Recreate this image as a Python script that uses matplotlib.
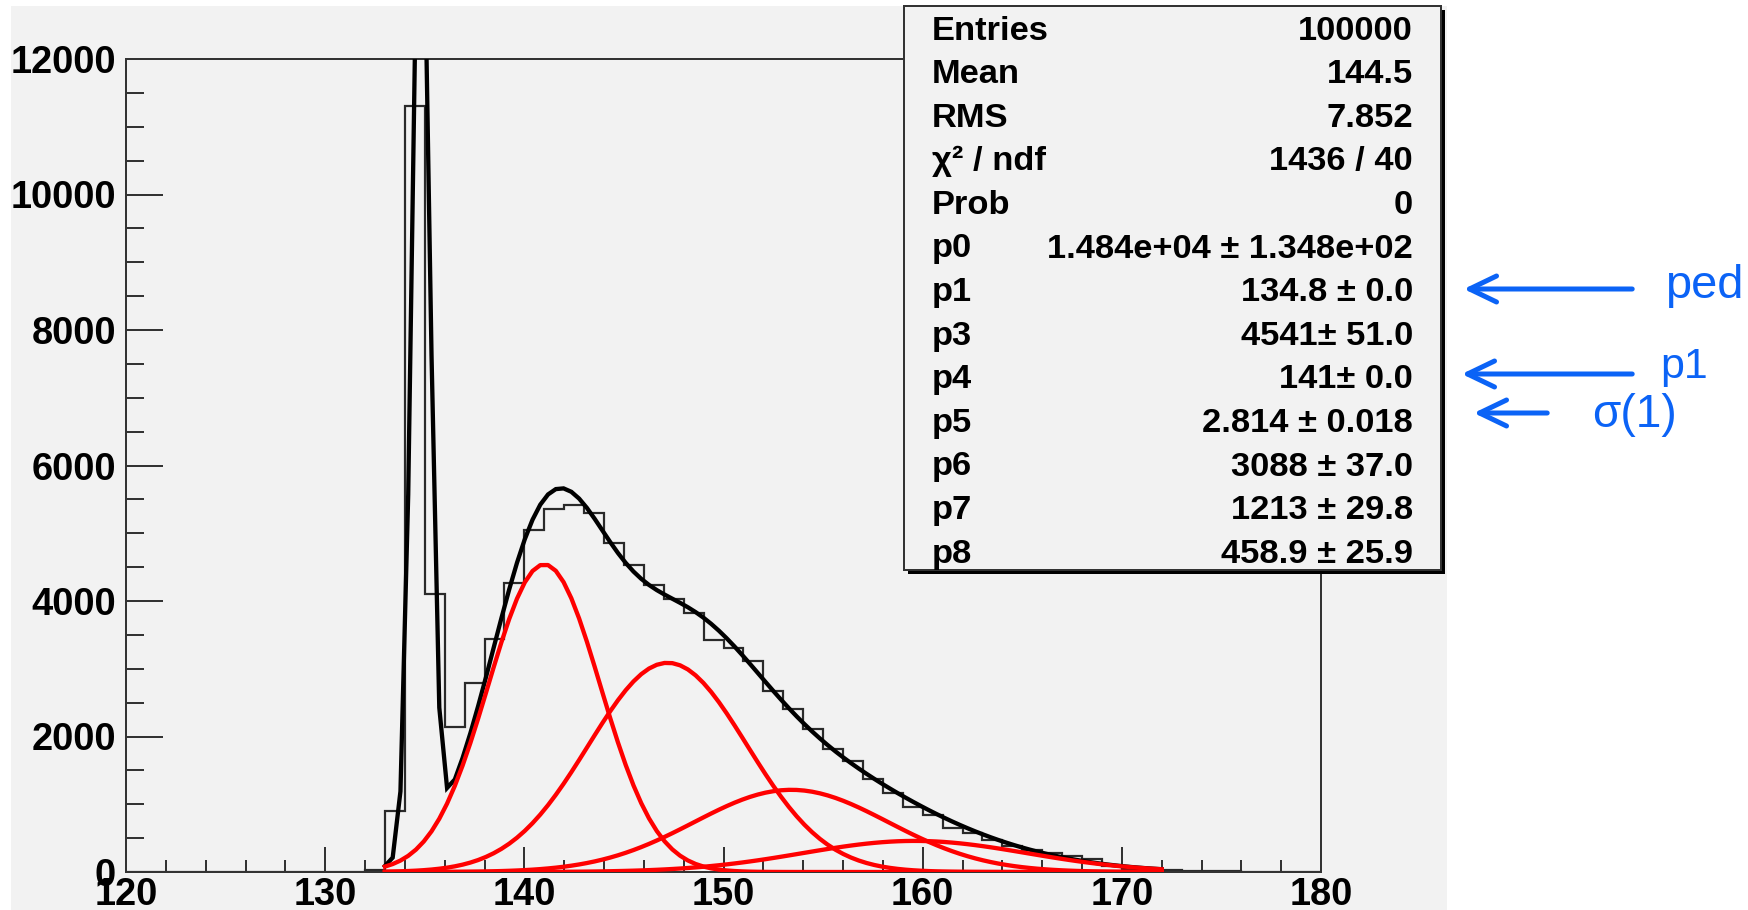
import numpy as np
import matplotlib.pyplot as plt
from matplotlib.patches import Rectangle, FancyArrowPatch
from matplotlib.ticker import MultipleLocator

plt.rcParams['font.family'] = ['Liberation Sans', 'DejaVu Sans']

W, H = 1748, 910  # output size in pixels

# histogram: 1-wide bins from 120 to 180
bin_edges = np.arange(120, 181, 1)
counts = [0, 0, 0, 0, 0, 0, 0, 0, 0, 0, 0,          # 120..130
          5, 25, 900, 11300, 4100, 2145, 2794, 3444, 4270,   # 131..139
          5050, 5353, 5412, 5294, 4860, 4531, 4236, 4025, 3828, 3424,  # 140..149
          3301, 3114, 2672, 2401, 2106, 1811, 1643, 1368, 1161, 964,   # 150..159
          840, 645, 580, 472, 388, 325, 276, 236, 197, 90,    # 160..169
          50, 35, 25, 18, 12, 8, 5, 3, 2, 1]                 # 170..179

# fit result (stat box) - pedestal + photo-electron peaks
ped_amp = 1.484e4      # p0
ped_mean = 134.8       # p1
ped_sigma = 0.44       # p2 (fixed, not printed)
pe1_mean = 141.0       # p4
pe1_sigma = 2.814      # p5
pe_amps = [4541, 3088, 1213, 458.9]   # p3, p6, p7, p8
fit_lo, fit_hi = 133, 172

stat_labels = ['Entries', 'Mean', 'RMS', 'χ² / ndf', 'Prob', 'p0', 'p1',
               'p3', 'p4', 'p5', 'p6', 'p7', 'p8']
stat_values = ['100000', '144.5', '7.852', '1436 / 40', '0',
               '1.484e+04 ± 1.348e+02', '134.8 ± 0.0', '4541± 51.0',
               '141± 0.0', '2.814 ± 0.018', '3088 ± 37.0', '1213 ± 29.8',
               '458.9 ± 25.9']

x_ticks = [120, 130, 140, 150, 160, 170, 180]
y_ticks = [0, 2000, 4000, 6000, 8000, 10000, 12000]

GRAY = '#f2f2f2'
DARK = '#333333'
BLUE = '#0b63f6'


def px(v):
    # pixels -> points at dpi 100
    return v * 0.72


def gaus(x, a, m, s):
    return a * np.exp(-0.5 * ((x - m) / s) ** 2)


fig = plt.figure(figsize=(W / 100, H / 100), dpi=100)

# canvas background (white strip on the right)
bg = fig.add_axes([0, 0, 1, 1], zorder=-1)
bg.set_xlim(0, W)
bg.set_ylim(H, 0)
bg.axis('off')
bg.add_patch(Rectangle((11, 6), 1447 - 11, H - 6, facecolor=GRAY, edgecolor='none'))

left, right, top, bottom = 126, 1321, 59, 872
ax = fig.add_axes([left / W, 1 - bottom / H, (right - left) / W, (bottom - top) / H])
ax.set_facecolor(GRAY)

# histogram
ax.stairs(counts, bin_edges, color='#2a2a2a', lw=px(2.2), zorder=2)

# fitted function, drawn like ROOT with 100 steps over the fit range
xf = np.linspace(fit_lo, fit_hi, 101)
gain = pe1_mean - ped_mean
components = []
for n, amp in enumerate(pe_amps, start=1):
    components.append(gaus(xf, amp, ped_mean + n * gain, np.sqrt(n) * pe1_sigma))
total = gaus(xf, ped_amp, ped_mean, ped_sigma) + np.sum(components, axis=0)

ax.plot(xf, total, color='black', lw=px(4.3), zorder=3, solid_joinstyle='miter')
for comp in components:
    ax.plot(xf, comp, color='#ff0000', lw=px(4.3), zorder=4)

ax.set_xlim(120, 180)
ax.set_ylim(0, 12000)
ax.set_xticks(x_ticks)
ax.set_xticklabels([str(t) for t in x_ticks], fontweight='bold')
ax.set_yticks(y_ticks)
ax.set_yticklabels([str(t) for t in y_ticks], fontweight='bold')
ax.xaxis.set_minor_locator(MultipleLocator(2))
ax.yaxis.set_minor_locator(MultipleLocator(500))

for s in ax.spines.values():
    s.set_color(DARK)
    s.set_linewidth(px(2))
ax.tick_params(axis='both', which='both', direction='in', color=DARK, width=px(2),
               labelsize=px(38), labelcolor='black')
ax.tick_params(axis='y', which='major', length=px(37), pad=px(10))
ax.tick_params(axis='y', which='minor', length=px(18))
ax.tick_params(axis='x', which='major', length=px(25), pad=px(5))
ax.tick_params(axis='x', which='minor', length=px(12))

# overlay in pixel coordinates: stat box and annotations
ov = fig.add_axes([0, 0, 1, 1], zorder=5)
ov.set_xlim(0, W)
ov.set_ylim(H, 0)
ov.axis('off')
ov.patch.set_alpha(0)

bx0, by0, bx1, by1 = 904, 6, 1441, 570
ov.add_patch(Rectangle((bx0 + 4, by0 + 4), bx1 - bx0, by1 - by0,
                       facecolor='black', edgecolor='black', lw=0))
ov.add_patch(Rectangle((bx0, by0), bx1 - bx0, by1 - by0,
                       facecolor=GRAY, edgecolor=DARK, lw=px(2)))

row0, row_step = 39.5, 43.6
for i, (lab, val) in enumerate(zip(stat_labels, stat_values)):
    yb = row0 + i * row_step
    ov.text(932, yb, lab, ha='left', va='baseline', fontsize=px(34.5),
            fontweight='bold', color='black')
    ov.text(1413, yb, val, ha='right', va='baseline', fontsize=px(34.5),
            fontweight='bold', color='black')

# blue arrows and labels
arrows = [((1635, 289), (1461, 289)),
          ((1635, 374), (1459, 374)),
          ((1550, 413), (1471, 413))]
for start, end in arrows:
    ov.add_patch(FancyArrowPatch(start, end, arrowstyle='->,head_length=%f,head_width=%f'
                                 % (px(27), px(13)),
                                 mutation_scale=1, color=BLUE, lw=px(5),
                                 capstyle='round', joinstyle='round'))

ov.text(1665, 298, 'ped', ha='left', va='baseline', fontsize=px(47), color=BLUE)
ov.text(1660, 378, 'p1', ha='left', va='baseline', fontsize=px(43), color=BLUE)
ov.text(1592, 427, 'σ(1)', ha='left', va='baseline', fontsize=px(46), color=BLUE)

fig.savefig('out.png', dpi=100, facecolor='white')
